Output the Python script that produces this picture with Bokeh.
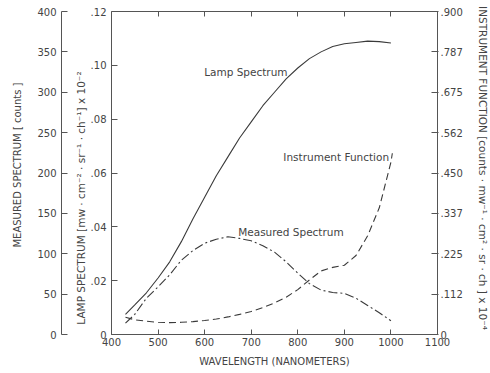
from bokeh.plotting import figure
from bokeh.models import Range1d, LinearAxis, FixedTicker, Label
from bokeh.embed import file_html
from bokeh.resources import INLINE

# ---- data ----
wavelength = [430, 450, 475, 500, 525, 550, 575, 600, 625, 650, 675, 700,
              725, 750, 775, 800, 825, 850, 875, 900, 925, 950, 975, 1000]
lamp_spectrum = [0.0075, 0.011, 0.0155, 0.021, 0.027, 0.0345, 0.043, 0.051,
                 0.059, 0.066, 0.073, 0.079, 0.085, 0.090, 0.095, 0.099,
                 0.1025, 0.105, 0.107, 0.108, 0.1085, 0.109, 0.1088, 0.1083]
measured_spectrum = [14, 25, 45, 59, 74, 92, 104, 113, 118, 121, 119, 116,
                     110, 102, 90, 76, 63, 55, 52, 51, 45, 36, 27, 17]
instrument_wavelength = [430, 450, 475, 500, 525, 550, 575, 600, 625, 650, 675,
                         700, 725, 750, 775, 800, 825, 850, 875, 900, 925, 950,
                         975, 1000, 1003]
instrument_function = [0.048, 0.041, 0.037, 0.034, 0.033, 0.034, 0.036, 0.039,
                       0.043, 0.049, 0.056, 0.064, 0.075, 0.088, 0.104, 0.125,
                       0.152, 0.177, 0.187, 0.193, 0.22, 0.275, 0.353, 0.48, 0.505]

x_ticks = [400, 500, 600, 700, 800, 900, 1000, 1100]
x_inner_ticks = [500, 600, 700, 800, 900, 1000]
lamp_ticks = [0.0, 0.02, 0.04, 0.06, 0.08, 0.10, 0.12]
lamp_labels = ["0", ".02", ".04", ".06", ".08", ".10", ".12"]
meas_ticks = [0, 50, 100, 150, 200, 250, 300, 350, 400]
inst_ticks = [0.0, 0.1125, 0.225, 0.3375, 0.45, 0.5625, 0.675, 0.7875, 0.9]
inst_labels = ["0", ".112", ".225", ".337", ".450", ".562", ".675", ".787", ".900"]

FONT = "DejaVu Sans"
TXT = "#444444"
LINE = "#3a3a3a"
NB = "\u00a0"

p = figure(frame_width=326, frame_height=323,
           x_range=Range1d(400, 1100), y_range=Range1d(0, 0.12),
           output_backend="svg", toolbar_location=None,
           min_border_left=111, min_border_right=53,
           min_border_top=11, min_border_bottom=39,
           background_fill_color="white", border_fill_color="white")
p.grid.visible = False
p.outline_line_color = "#555555"
p.extra_y_ranges = {"meas": Range1d(0, 400), "inst": Range1d(0, 0.9),
                    "dummy": Range1d(0, 1)}

def style(ax, size="10px"):
    ax.major_label_text_font = FONT
    ax.major_label_text_font_size = size
    ax.major_label_text_color = TXT
    ax.axis_label_text_font = FONT
    ax.axis_label_text_font_style = "normal"
    ax.axis_label_text_font_size = "10.5px"
    ax.axis_label_text_color = TXT
    ax.major_tick_line_color = "#555555"
    ax.minor_tick_line_color = None
    ax.axis_line_color = None

# bottom axis
xa = p.xaxis[0]
xa.ticker = FixedTicker(ticks=x_ticks)
style(xa)
xa.axis_label_text_font_size = "10px"
xa.major_tick_in = 5
xa.major_tick_out = 0
xa.major_label_standoff = 3
xa.axis_label = "WAVELENGTH (NANOMETERS)"
xa.axis_label_standoff = 7

# top axis (ticks only, empty labels)
ta = LinearAxis(ticker=FixedTicker(ticks=x_inner_ticks))
style(ta, "1px")
ta.major_label_overrides = {t: "" for t in x_inner_ticks}
ta.major_tick_in = 5
ta.major_tick_out = 0
ta.major_label_standoff = 0
p.add_layout(ta, "above")

# lamp axis (inner left)
la = p.yaxis[0]
la.ticker = FixedTicker(ticks=lamp_ticks)
la.major_label_overrides = dict(zip(lamp_ticks, lamp_labels))
style(la)
la.major_tick_in = 6
la.major_tick_out = 0
la.major_label_standoff = 5
la.axis_label = "LAMP SPECTRUM [mw · cm⁻² · sr⁻¹ · ch⁻¹] x 10⁻²" + NB * 15
la.axis_label_standoff = 1

# spacer axis (invisible, only takes room)
da = LinearAxis(y_range_name="dummy", ticker=FixedTicker(ticks=[0.5]))
style(da, "1px")
da.major_label_overrides = {0.5: ""}
da.major_tick_in = 0
da.major_tick_out = 10
da.major_tick_line_color = None
da.major_label_standoff = 0
p.add_layout(da, "left")

# measured axis (outer left)
ma = LinearAxis(y_range_name="meas", ticker=FixedTicker(ticks=meas_ticks))
style(ma)
ma.axis_label_text_font_size = "10px"
ma.axis_line_color = "#555555"
ma.major_tick_in = 6
ma.major_tick_out = 0
ma.major_label_standoff = 5
ma.axis_label = NB * 5 + "MEASURED SPECTRUM [ counts ]"
ma.axis_label_standoff = 11
p.add_layout(ma, "left")

# right axis
ra = LinearAxis(y_range_name="inst", ticker=FixedTicker(ticks=inst_ticks))
ra.major_label_overrides = dict(zip(inst_ticks, inst_labels))
style(ra)
ra.major_tick_in = 6
ra.major_tick_out = 1
ra.major_label_standoff = 2
ra.axis_label = "INSTRUMENT FUNCTION [counts · mw⁻¹ · cm² · sr · ch ] x 10⁻⁴" + NB * 3
ra.axis_label_standoff = 11
p.add_layout(ra, "right")

# curves
p.line(wavelength, lamp_spectrum, line_color=LINE, line_width=1.1)
p.line(wavelength, measured_spectrum, y_range_name="meas", line_color=LINE,
       line_width=1.1, line_dash="9 3 2 3")
p.line(instrument_wavelength, instrument_function, y_range_name="inst",
       line_color=LINE, line_width=1.1, line_dash="7 4")

# annotations
for txt, x, y in [("Lamp Spectrum", 599, 0.0974),
                  ("Measured Spectrum", 672, 0.038),
                  ("Instrument Function", 769, 0.0659)]:
    p.add_layout(Label(x=x, y=y, text=txt, text_font=FONT, text_font_size="10.5px",
                       text_color=TXT, text_baseline="middle", text_align="left"))

open("out.html", "w").write(file_html(p, INLINE))
